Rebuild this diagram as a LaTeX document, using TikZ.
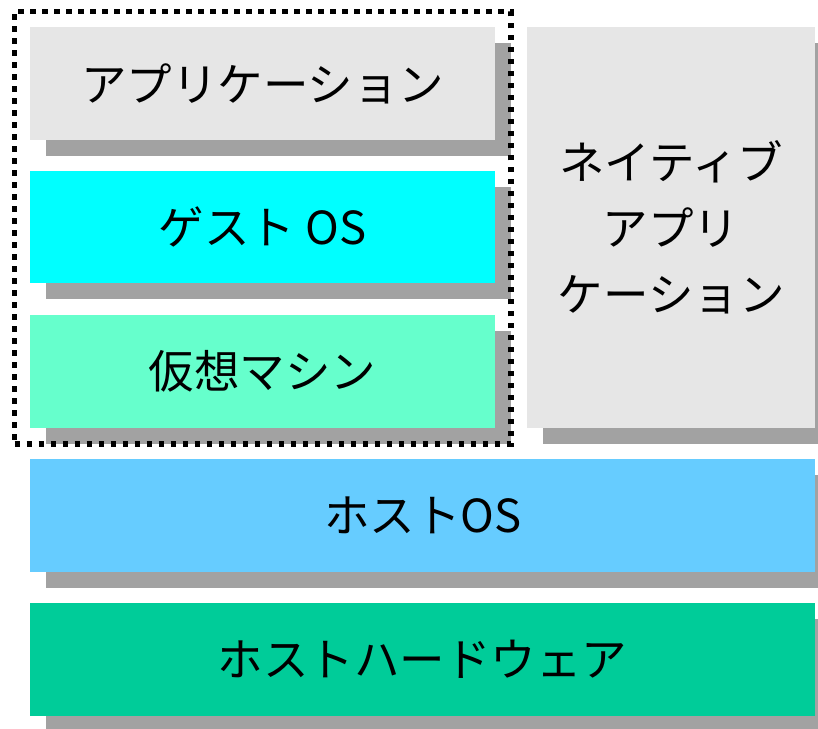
\documentclass[tikz,border=0pt]{standalone}
\usepackage{fontspec}
\setmainfont{Noto Sans CJK JP}
\usetikzlibrary{shadows,fit}
\definecolor{boxgray}{HTML}{E6E6E6}
\definecolor{guestcyan}{HTML}{00FFFF}
\definecolor{vmmint}{HTML}{66FFCC}
\definecolor{hostblue}{HTML}{66CCFF}
\definecolor{hwgreen}{HTML}{00CC99}
\definecolor{shadowgray}{HTML}{A2A2A2}

\begin{document}
\begin{tikzpicture}[x=1pt, y=-1pt,
    layer/.style={rectangle, anchor=north west, inner sep=0pt,
        font=\fontsize{45.5}{66}\selectfont, align=center,
        drop shadow={shadow xshift=16pt, shadow yshift=-16pt, fill=shadowgray, opacity=1}},
    vmframe/.style={draw=black, line width=5.5pt, dash pattern=on 5.5pt off 6.5pt, inner sep=15.5pt}]
    \useasboundingbox (0,0) rectangle (818,728);
    % linke Spalte
    \node[layer, fill=boxgray, minimum width=465pt, minimum height=113pt] (app) at (30,27) {アプリケーション};
    \node[layer, fill=guestcyan, minimum width=465pt, minimum height=112pt] (guest) at (30,171) {ゲスト OS};
    \node[layer, fill=vmmint, minimum width=465pt, minimum height=113pt] (vm) at (30,315) {仮想マシン};
    % rechte Spalte
    \node[layer, fill=boxgray, minimum width=288pt, minimum height=401pt] (native) at (527,27) {ネイティブ\\アプリ\\ケーション};
    % unten
    \node[layer, fill=hostblue, minimum width=785pt, minimum height=113pt] (hostos) at (30,459) {ホストOS};
    \node[layer, fill=hwgreen, minimum width=785pt, minimum height=113pt] (hw) at (30,603) {ホストハードウェア};
    \node[vmframe, fit=(app)(vm)] (frame) {};
\end{tikzpicture}
\end{document}
